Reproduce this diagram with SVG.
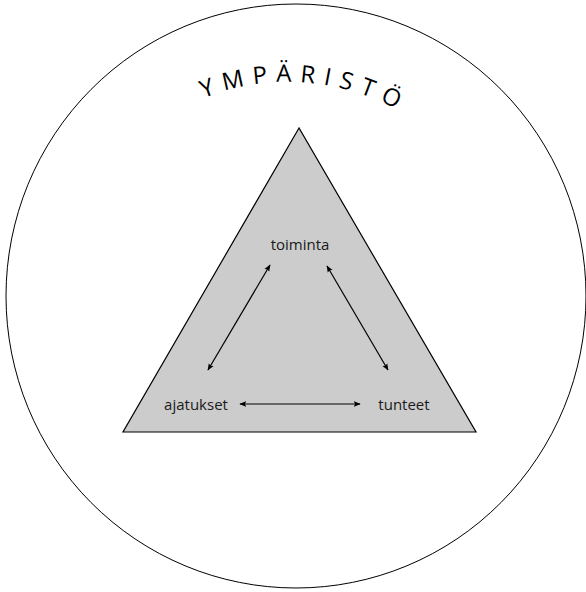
<svg xmlns="http://www.w3.org/2000/svg" width="586" height="592" viewBox="0 0 586 592">
<style>
.lbl{font-family:"Open Sans","Liberation Sans",sans-serif;font-size:15px;fill:#1a1a1a;}
.title{font-family:"Open Sans","Liberation Sans",sans-serif;font-size:24px;fill:#000;letter-spacing:8.5px;}
.conn{stroke:#000;stroke-width:1.2;fill:none;marker-start:url(#ah);marker-end:url(#ah);}
</style>
<defs>
<marker id="ah" viewBox="0 0 10 10" refX="9" refY="5" markerWidth="7" markerHeight="7" markerUnits="userSpaceOnUse" orient="auto-start-reverse">
<path d="M0,1 L10,5 L0,9 L2,5 Z" fill="#000"/>
</marker>
<path id="arc" d="M99.6,181.5 A228,228 0 0 1 493.5,211.1"/>
</defs>
<rect width="586" height="592" fill="#fff"/>
<g id="environment">
<ellipse cx="296" cy="296" rx="290" ry="292" fill="none" stroke="#000" stroke-width="1"/>
<text class="title"><textPath href="#arc" startOffset="50%" text-anchor="middle">YMPÄRISTÖ</textPath></text>
</g>
<g id="triangle">
<polygon points="299,128 123,432 476,432" fill="#cccccc" stroke="#000" stroke-width="1.2"/>
</g>
<g id="toiminta"><text class="lbl" x="300" y="250" text-anchor="middle">toiminta</text></g>
<g id="ajatukset"><text class="lbl" x="196" y="410" text-anchor="middle">ajatukset</text></g>
<g id="tunteet"><text class="lbl" x="404" y="410" text-anchor="middle">tunteet</text></g>
<g id="connectors">
<line class="conn" x1="270" y1="265" x2="208" y2="370"/>
<line class="conn" x1="327" y1="266" x2="388" y2="370"/>
<line class="conn" x1="240" y1="404" x2="360" y2="404"/>
</g>
</svg>
